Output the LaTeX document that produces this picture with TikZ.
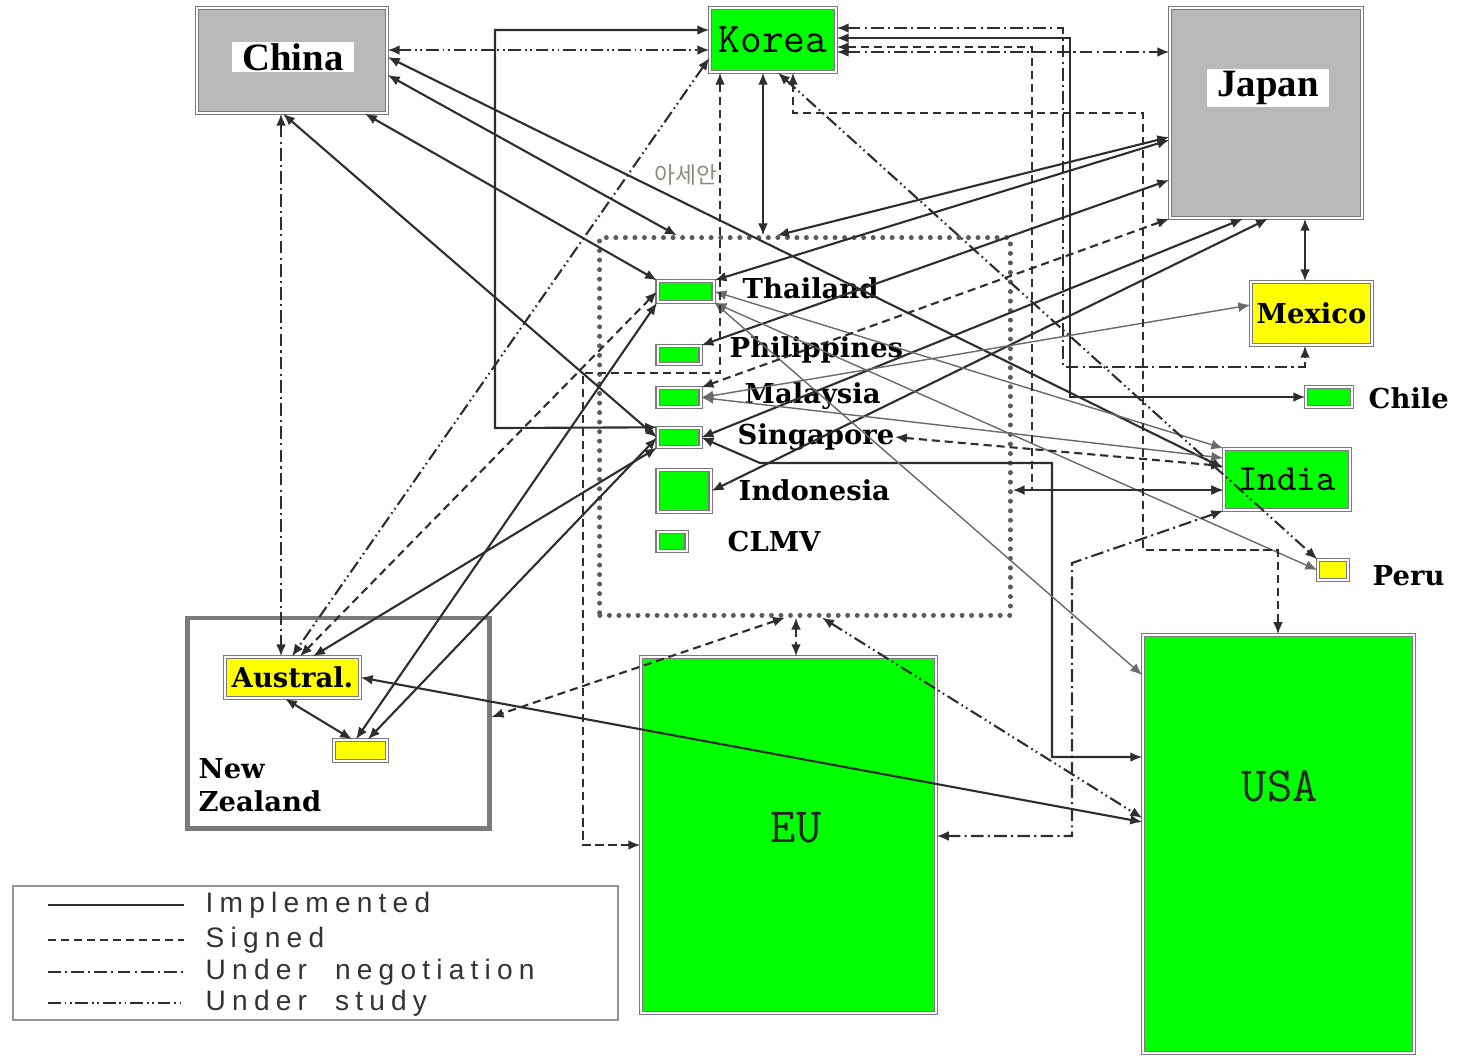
\documentclass[tikz,border=0pt]{standalone}
\usepackage{fontspec}
\setmainfont{Liberation Serif}
\newfontfamily\slabfont{DejaVu Serif}
\newfontfamily\legendfont[LetterSpace=22]{Liberation Sans}
\newfontfamily\krfont{Noto Sans CJK KR}
\usepackage{xcolor}
\definecolor{FtaGreen}{HTML}{00FF00}
\definecolor{FtaYellow}{HTML}{FFFF00}
\definecolor{FtaGray}{HTML}{B9B9B9}
\definecolor{EdgeGray}{HTML}{7A7A7A}
\definecolor{LinkDark}{HTML}{2E2E2E}
\definecolor{LinkThin}{HTML}{6A6A6A}
\definecolor{AseanText}{HTML}{8E8A7E}
\usepackage{tikz}
\usetikzlibrary{arrows.meta,positioning,calc}

\tikzset{
  implemented/.style={draw=LinkDark, line width=0.6pt, <->},
  thinlink/.style={draw=LinkThin, line width=0.4pt, <->},
  signed/.style={draw=LinkDark, line width=0.6pt, dash pattern=on 2.3pt off 1.4pt, <->},
  nego/.style={draw=LinkDark, line width=0.6pt, dash pattern=on 3.6pt off 1.2pt on 0.6pt off 1.2pt, <->},
  study/.style={draw=LinkDark, line width=0.6pt, dash pattern=on 3.6pt off 1.1pt on 0.5pt off 1pt on 0.5pt off 1.1pt, <->},
}

\begin{document}
\begin{tikzpicture}[x=0.01cm, y=-0.01cm, >={Latex[length=3.4pt,width=2.8pt]},
    country/.style={draw=EdgeGray, line width=0.4pt, double=white, double distance=0.5pt, inner sep=0pt},
    namebox/.style={fill=white, inner xsep=3pt, inner ysep=0.5pt, font=\bfseries\fontsize{11}{12}\selectfont},
    seaname/.style={inner sep=0pt, font=\slabfont\bfseries\fontsize{7.8}{9.4}\selectfont},
    bigname/.style={inner sep=0pt, text=black!85, font=\ttfamily\fontsize{14}{15}\selectfont},
    legendtext/.style={anchor=west, inner sep=0pt, text=black!80, font=\legendfont\fontsize{8}{9}\selectfont}]
  \useasboundingbox (0,0) rectangle (1473,1056);

  % Draw the big economies
  \node[country, fill=FtaGray, minimum width=1.9cm, minimum height=1.05cm] (china) at (292,60.5) {};
  \node[namebox] (chinaname) at (293,57) {China};
  \node[country, fill=FtaGray, minimum width=1.92cm, minimum height=2.1cm] (japan) at (1266,113) {};
  \node[namebox] (japanname) at (1268,88) {Japan};
  \node[country, fill=FtaGreen, minimum width=1.26cm, minimum height=0.64cm, font=\ttfamily\fontsize{12}{13}\selectfont] (korea) at (773,40) {Korea};
  \node[country, fill=FtaYellow, minimum width=1.21cm, minimum height=0.63cm, seaname] (mexico) at (1311.5,313.5) {Mexico};
  \node[country, fill=FtaGreen, minimum width=0.46cm, minimum height=0.2cm] (chile) at (1329,397) {};
  \node[seaname, anchor=west] (chilename) at (1368,398) {Chile};
  \node[country, fill=FtaGreen, minimum width=1.26cm, minimum height=0.61cm, font=\ttfamily\fontsize{10.5}{12}\selectfont] (india) at (1287,479.5) {India};
  \node[country, fill=FtaYellow, minimum width=0.3cm, minimum height=0.2cm] (peru) at (1333,570) {};
  \node[seaname, anchor=west] (peruname) at (1372,576) {Peru};
  \node[country, fill=FtaGreen, minimum width=2.71cm, minimum height=4.18cm] (usa) at (1278.5,844) {};
  \node[bigname] (usaname) at (1280,786) {USA};
  \node[country, fill=FtaGreen, minimum width=2.95cm, minimum height=3.56cm] (eu) at (788.5,835) {};
  \node[bigname] (euname) at (796,828) {EU};

  % ASEAN group
  \node[draw=EdgeGray!75!black, line width=1.4pt, dash pattern=on 0.01pt off 2.7pt, line cap=round, minimum width=4.1cm, minimum height=3.77cm] (asean) at (805,426.5) {};
  \node[text=AseanText, inner sep=0pt, font=\krfont\fontsize{6.5}{7}\selectfont] (aseanname) at (686,175) {아세안};
  \foreach \id/\yy/\w/\h/\lx/\ly/\txt in {
      thai/291.5/0.56/0.21/742/288/Thailand,
      phil/355/0.43/0.18/729/350/Philippines,
      malay/397.5/0.43/0.19/744/396/Malaysia,
      sing/437.5/0.43/0.19/737/437/Singapore,
      indo/491/0.53/0.42/738/490/Indonesia,
      clmv/541.5/0.29/0.19/727/541/CLMV} {
    \node[country, fill=FtaGreen, anchor=west, minimum width=\w cm, minimum height=\h cm] (\id) at (657,\yy) {};
    \node[seaname, anchor=west] (\id name) at (\lx,\ly) {\txt};
  }

  % Australia and New Zealand
  \node[draw=EdgeGray, line width=1.4pt, minimum width=3.01cm, minimum height=2.1cm] (anz) at (338.5,723) {};
  \node[country, fill=FtaYellow, minimum width=1.35cm, minimum height=0.41cm, seaname] (austral) at (292.5,677.5) {Austral.};
  \node[country, fill=FtaYellow, minimum width=0.53cm, minimum height=0.21cm] (nz) at (360.5,750.5) {};
  \node[seaname, anchor=north west, align=left] (nzname) at (198,758) {New\\Zealand};

  % Implemented
  \draw[implemented] (china.east |- 0,57) -- (india.west |- 0,468);
  \draw[implemented] (china.east |- 0,75) -- (677,0 |- asean.north);
  \draw[implemented] (365,0 |- china.south) -- (thai.north west);
  \draw[implemented] (283,0 |- china.south) -- (sing.west);
  \draw[implemented] (korea.south -| 763,0) -- (asean.north -| 763,0);
  \draw[implemented] (japan.west |- 0,137) -- (777,0 |- asean.north);
  \draw[implemented] (japan.west |- 0,140) -- (thai.north east);
  \draw[implemented] (japan.west |- 0,180) -- (phil.north east);
  \draw[implemented] (1243,0 |- japan.south) -- (sing.east);
  \draw[implemented] (1268,0 |- japan.south) -- (indo.east);
  \draw[implemented] (japan.south -| 1305,0) -- (mexico.north -| 1305,0);
  \draw[implemented] (korea.east |- 0,38) -- (1070,38) -- (1070,397) -- (chile.west);
  \draw[implemented] (korea.west |- 0,30) -- (495,30) -- (495,428) -- (sing.north west);
  \draw[implemented] (sing.east) -- (760,463) -- (1052,463) -- (1052,757) -- (usa.west |- 0,757);
  \draw[implemented] (austral.east) -- (usa.west |- 0,822);
  \draw[implemented] (austral.south -| 285,0) -- (nz.north -| 352,0);
  \draw[implemented] (austral.north -| 313,0) -- (sing.south west);
  \draw[implemented] (nz.north -| 356,0) -- (thai.south west);
  \draw[implemented] (nz.north -| 368,0) -- (sing.west);
  \draw[thinlink] (thai.south east) -- (peru.west);
  \draw[thinlink] (thai.east) -- (india.north west);
  \draw[thinlink] (thai.south east) -- (usa.west |- 0,675);
  \draw[thinlink] (malay.east) -- (mexico.west |- 0,305);
  \draw[thinlink] (malay.east) -- (india.west |- 0,458);

  % Signed
  \draw[signed] (korea.east |- 0,47) -- (1032,47) -- (1032,490) -- (india.west |- 0,490);
  \draw[signed] (korea.south -| 793,0) -- (793,113) -- (1143,113) -- (1143,550) -- (1278,550) -- (usa.north -| 1278,0);
  \draw[signed] (korea.south -| 720,0) -- (720,373) -- (583,373) -- (583,845) -- (eu.west |- 0,845);
  \draw[signed] (japan.south west) -- (malay.north east);
  \draw[signed] (asean.east |- 0,490) -- (india.west |- 0,490);
  \draw[signed] (singname.east) -- (india.west |- 0,466);
  \draw[signed] (asean.south -| 785,0) -- (anz.east |- 0,717);
  \draw[signed] (asean.south -| 796,0) -- (eu.north -| 796,0);
  \draw[signed] (thai.west) -- (austral.north -| 300,0);

  % Under negotiation
  \draw[nego] (china.south -| 281,0) -- (austral.north -| 281,0);
  \draw[nego] (korea.east |- 0,52) -- (japan.west |- 0,52);
  \draw[nego] (korea.east |- 0,28) -- (1063,28) -- (1063,367) -- (1305,367) -- (mexico.south -| 1305,0);
  \draw[nego] (india.south west) -- (1072,563) -- (1072,836) -- (eu.east |- 0,836);

  % Under study
  \draw[study] (china.east |- 0,50) -- (korea.west |- 0,50);
  \draw[study] (korea.west |- 0,58) -- (austral.north -| 292,0);
  \draw[study] (korea.south -| 778,0) -- (peru.north west);
  \draw[study] (asean.south -| 822,0) -- (usa.west |- 0,818);

  % Legend
  \node[draw=EdgeGray!80, line width=0.6pt, fill=white, minimum width=6.05cm, minimum height=1.34cm] (legend) at (315.5,953) {};
  \foreach \sty/\yy/\txt [count=\i] in {implemented/905/Implemented, signed/940/Signed,
      nego/972/Under\ \ negotiation, study/1003/Under\ \ study} {
    \draw[\sty, -, line width=0.8pt] (48,\yy) -- (184,\yy);
    \node[legendtext] (leg\i) at (205,\yy) {\txt};
  }
\end{tikzpicture}
\end{document}
